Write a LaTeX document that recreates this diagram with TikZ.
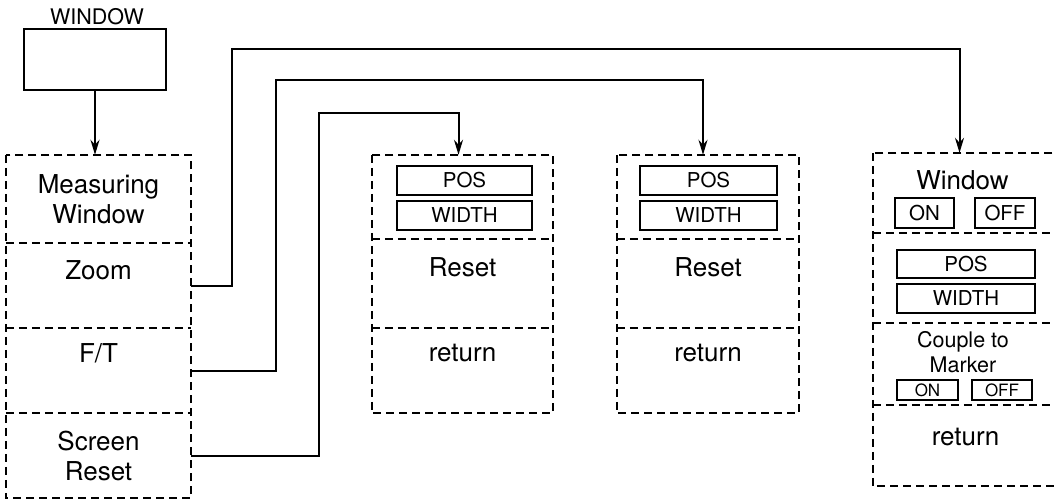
\documentclass[tikz,border=0pt]{standalone}
\usepackage{fontspec}
\setmainfont{TeX Gyre Heros}
\usetikzlibrary{arrows.meta}
\begin{document}
\begin{tikzpicture}[x=1pt, y=-1pt,
  menuline/.style={line width=1.9pt, dash pattern=on 8pt off 5pt},
  sect/.style={inner sep=0pt, minimum width=#1},
  txt/.style={inner sep=0pt, align=center, font=\fontsize{26}{30}\selectfont},
  key/.style={draw, line width=2pt, inner sep=0pt, font=\fontsize{20.5}{24}\selectfont},
  link/.style={-{Stealth[length=15pt,width=9pt]}, line width=2pt}]
\useasboundingbox (0,0) rectangle (1054,503);
% top key
\node[key, minimum width=142pt, minimum height=61pt] (winkey) at (95,59.5) {};
\node[inner sep=0pt, font=\fontsize{21.5}{24}\selectfont] (winlbl) at (97,17) {WINDOW};
% measuring window menu
\node[sect=185pt, minimum height=88pt] (mw) at (98.5,199) {};
\node[sect=185pt, minimum height=85pt] (zoom) at (98.5,285.5) {};
\node[sect=185pt, minimum height=85pt] (ft) at (98.5,370.5) {};
\node[sect=185pt, minimum height=85pt] (sr) at (98.5,455.5) {};
\draw[menuline] (mw.north west) rectangle (sr.south east);
\draw[menuline] (mw.south west) -- (mw.south east);
\draw[menuline] (zoom.south west) -- (zoom.south east);
\draw[menuline] (ft.south west) -- (ft.south east);
\node[txt] (mwtxt) at (mw.center) {Measuring\\Window};
\node[txt] (zoomtxt) at ([yshift=15pt]zoom.center) {Zoom};
\node[txt] (fttxt) at ([yshift=17pt]ft.center) {F/T};
\node[txt] (srtxt) at (sr.center) {Screen\\Reset};
% screen reset menu
\node[sect=181pt, minimum height=84pt] (pa) at (462.5,197) {};
\node[sect=181pt, minimum height=89pt] (ra) at (462.5,283.5) {};
\node[sect=181pt, minimum height=85pt] (reta) at (462.5,370.5) {};
\draw[menuline] (pa.north west) rectangle (reta.south east);
\draw[menuline] (pa.south west) -- (pa.south east);
\draw[menuline] (ra.south west) -- (ra.south east);
\node[key, minimum width=135pt, minimum height=29pt] (posa) at (464.5,180) {POS};
\node[key, minimum width=135pt, minimum height=29pt] (widtha) at (464.5,215) {WIDTH};
\node[txt] (resa) at ([yshift=16pt]ra.center) {Reset};
\node[txt] (retatxt) at ([yshift=17pt]reta.center) {return};
% F/T menu
\node[sect=182pt, minimum height=84pt] (pb) at (708,197) {};
\node[sect=182pt, minimum height=89pt] (rb) at (708,283.5) {};
\node[sect=182pt, minimum height=85pt] (retb) at (708,370.5) {};
\draw[menuline] (pb.north west) rectangle (retb.south east);
\draw[menuline] (pb.south west) -- (pb.south east);
\draw[menuline] (rb.south west) -- (rb.south east);
\node[key, minimum width=137pt, minimum height=29pt] (posb) at (708.5,180) {POS};
\node[key, minimum width=137pt, minimum height=29pt] (widthb) at (708.5,215) {WIDTH};
\node[txt] (resb) at ([yshift=16pt]rb.center) {Reset};
\node[txt] (retbtxt) at ([yshift=17pt]retb.center) {return};
% zoom menu
\node[sect=185pt, minimum height=80pt] (wc) at (965.5,193) {};
\node[sect=185pt, minimum height=90pt] (kc) at (965.5,278) {};
\node[sect=185pt, minimum height=82pt] (cc) at (965.5,364) {};
\node[sect=185pt, minimum height=81pt] (retc) at (965.5,445.5) {};
\draw[menuline] (wc.north west) rectangle (retc.south east);
\draw[menuline] (wc.south west) -- (wc.south east);
\draw[menuline] (kc.south west) -- (kc.south east);
\draw[menuline] (cc.south west) -- (cc.south east);
\node[txt] (wctxt) at (962.5,180) {Window};
\node[key, minimum width=59pt, minimum height=30pt] (onc) at (924.5,213) {ON};
\node[key, minimum width=60pt, minimum height=30pt] (offc) at (1005,213) {OFF};
\node[key, minimum width=138pt, minimum height=28pt] (posc) at (966,264) {POS};
\node[key, minimum width=138pt, minimum height=29pt] (widthc) at (966,298.5) {WIDTH};
\node[txt, font=\fontsize{21.5}{25}\selectfont] (cctxt) at (963,352) {Couple to\\Marker};
\node[key, minimum width=61pt, minimum height=20pt, font=\fontsize{17}{20}\selectfont] (oncc) at (927.5,390) {ON};
\node[key, minimum width=60pt, minimum height=20pt, font=\fontsize{17}{20}\selectfont] (offcc) at (1002,390) {OFF};
\node[txt] (retctxt) at ([yshift=8pt]retc.center) {return};
% connectors
\draw[link] (winkey.south) -- (winkey.south |- mw.north);
\draw[link] (zoom.east) -| (232,49) -| ([xshift=-6pt]wc.north);
\draw[link] (ft.east) -| (276,80) -| ([xshift=-5pt]pb.north);
\draw[link] (sr.east) -| (319,113) -| ([xshift=-4pt]pa.north);
\end{tikzpicture}
\end{document}
